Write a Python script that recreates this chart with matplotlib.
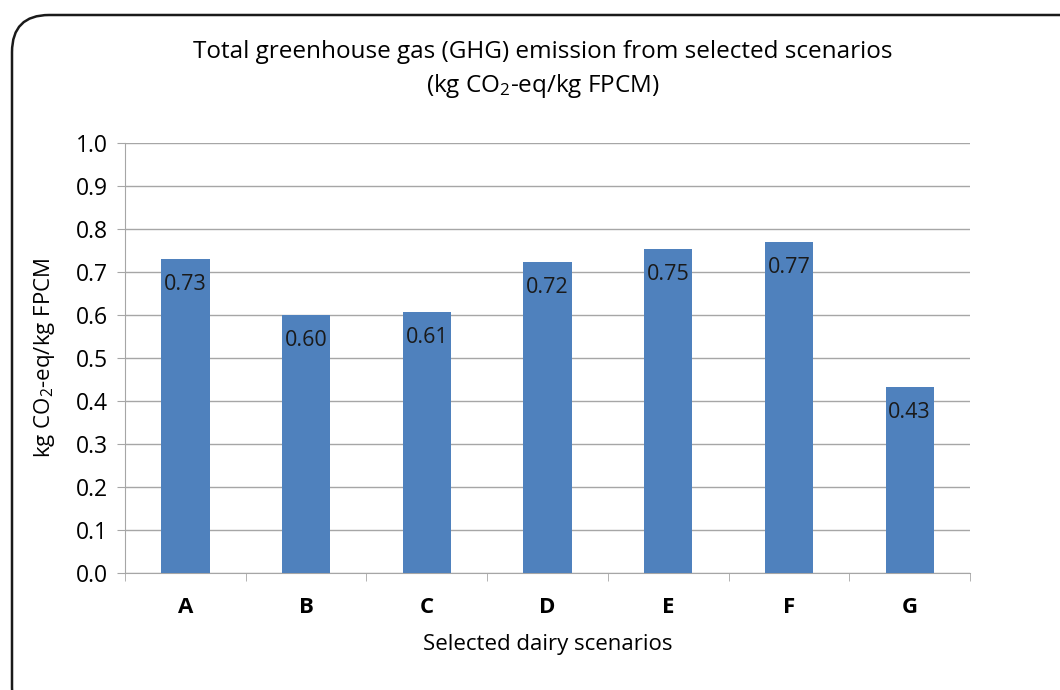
import matplotlib
matplotlib.use("Agg")
import matplotlib.pyplot as plt
from matplotlib.patches import FancyBboxPatch

# Data
scenarios = ["A", "B", "C", "D", "E", "F", "G"]
emissions = [0.730, 0.600, 0.607, 0.723, 0.753, 0.770, 0.432]
y_ticks = [0.0, 0.1, 0.2, 0.3, 0.4, 0.5, 0.6, 0.7, 0.8, 0.9, 1.0]

plt.rcParams["font.family"] = ["Open Sans", "DejaVu Sans"]
plt.rcParams["mathtext.fontset"] = "custom"
plt.rcParams["mathtext.rm"] = "Open Sans"
plt.rcParams["mathtext.it"] = "Open Sans"

bar_color = "#4F81BD"
grid_color = "#A6A6A6"

fig = plt.figure(figsize=(10.6, 6.9), dpi=100)

# rounded outer frame (runs off the right and bottom edges)
frame = FancyBboxPatch((12 / 1060, -0.05), 1.2, 1.05 - 15 / 690,
                       boxstyle="round,pad=0,rounding_size=0.035",
                       transform=fig.transFigure, facecolor="none",
                       edgecolor="#1a1a1a", linewidth=1.8, mutation_aspect=1060 / 690)
fig.patches.append(frame)

ax = fig.add_axes([125 / 1060, 1 - 573 / 690, 845 / 1060, 430 / 690])

x = range(len(scenarios))
bars = ax.bar(x, emissions, width=0.4, color=bar_color, zorder=3)

for rect, val in zip(bars, emissions):
    ax.text(rect.get_x() + rect.get_width() / 2, val - 0.035, f"{val:.2f}",
            ha="center", va="top", fontsize=15.5, color="#1a1a1a", zorder=4)

ax.set_xlim(-0.5, len(scenarios) - 0.5)
ax.set_ylim(0, 1.0)
ax.set_yticks(y_ticks)
ax.set_yticklabels([f"{t:.1f}" for t in y_ticks], fontsize=16.5)
ax.set_xticks(list(x))
ax.set_xticklabels(scenarios, fontsize=16, fontweight="bold")

# minor ticks mark the category boundaries, like the original
ax.set_xticks([i - 0.5 for i in range(len(scenarios) + 1)], minor=True)
ax.tick_params(axis="x", which="major", length=0, pad=17)
ax.tick_params(axis="x", which="minor", length=6, color=grid_color, direction="out")
ax.tick_params(axis="y", length=6, color=grid_color, pad=6)

ax.yaxis.grid(True, color=grid_color, linewidth=1.0, zorder=0)
for side in ["top", "right"]:
    ax.spines[side].set_visible(False)
ax.spines["left"].set_color(grid_color)
ax.spines["bottom"].set_color(grid_color)

ax.set_xlabel("Selected dairy scenarios", fontsize=16, labelpad=12)
ax.set_ylabel(r"kg CO$_2$-eq/kg FPCM", fontsize=16, labelpad=14)

fig.text(543 / 1060, 1 - 52 / 690, "Total greenhouse gas (GHG) emission from selected scenarios",
         ha="center", va="center", fontsize=17.5)
fig.text(543 / 1060, 1 - 86 / 690, r"(kg CO$_2$-eq/kg FPCM)",
         ha="center", va="center", fontsize=17.5)

fig.savefig("out.png", dpi=100)
